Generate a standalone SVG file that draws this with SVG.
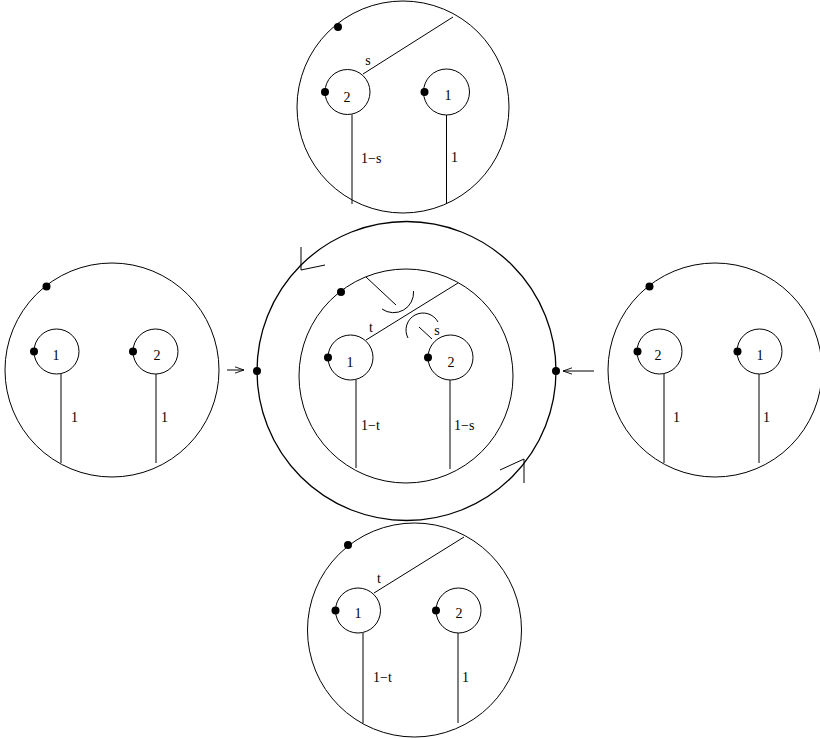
<svg xmlns="http://www.w3.org/2000/svg" width="820" height="739" viewBox="0 0 820 739">
<style>
.c{fill:none;stroke:#000;stroke-width:1}
.ln{fill:none;stroke:#000;stroke-width:1}
.d{fill:#000}
text{font-family:"Liberation Serif","Times New Roman",serif;font-size:14px;fill:#000}
.m{text-anchor:middle}
</style>
<defs>
<marker id="ah" viewBox="0 0 10 10" refX="10" refY="5" markerWidth="9" markerHeight="9" markerUnits="userSpaceOnUse" orient="auto">
<path d="M0,1.5 L10,5 L0,8.5" fill="none" stroke="#000" stroke-width="1"/>
</marker>
</defs>
<rect width="820" height="739" fill="#fff"/>

<g id="top">
<circle class="c" cx="403" cy="107" r="106"/>
<circle class="d" cx="338" cy="27" r="4"/>
<circle class="c" cx="347.5" cy="92" r="22.5"/>
<circle class="d" cx="325" cy="92" r="4"/>
<circle class="c" cx="446.5" cy="92" r="23"/>
<circle class="d" cx="424.5" cy="92" r="4"/>
<line class="ln" x1="363" y1="74" x2="453" y2="17"/>
<line class="ln" x1="352" y1="114.5" x2="352" y2="204"/>
<line class="ln" x1="446.5" y1="115" x2="446.5" y2="204"/>
<text class="m" x="368" y="65">s</text>
<text class="m" x="347" y="102">2</text>
<text class="m" x="448" y="100">1</text>
<text x="361" y="163">1−s</text>
<text x="451" y="162">1</text>
</g>

<g id="left">
<circle class="c" cx="112" cy="370" r="107"/>
<circle class="d" cx="46.5" cy="286.5" r="4"/>
<circle class="c" cx="56.5" cy="351.5" r="22.5"/>
<circle class="d" cx="34" cy="351.5" r="4"/>
<circle class="c" cx="155.5" cy="351.5" r="22.5"/>
<circle class="d" cx="133" cy="351.5" r="4"/>
<line class="ln" x1="61" y1="374" x2="61" y2="463"/>
<line class="ln" x1="156" y1="374" x2="156" y2="463"/>
<text class="m" x="56" y="360">1</text>
<text class="m" x="157" y="360">2</text>
<text x="71" y="422">1</text>
<text x="161" y="422">1</text>
</g>

<g id="center">
<circle cx="406.5" cy="371" r="149.5" fill="none" stroke="#000" stroke-width="1.3"/>
<circle class="d" cx="257" cy="371" r="4"/>
<circle class="d" cx="556" cy="371" r="4"/>
<path class="ln" d="M301,247 L301,270 L325,265"/>
<path class="ln" d="M500,470 L524,459 L524,483"/>
<circle class="c" cx="406" cy="376" r="107"/>
<circle class="d" cx="341" cy="292" r="4"/>
<line class="ln" x1="366" y1="277" x2="396" y2="305"/>
<path class="ln" d="M413.5,291 A20,20 0 0 1 382,309"/>
<line class="ln" x1="366" y1="340" x2="458" y2="283"/>
<path class="ln" d="M408,338 A17,17 0 0 1 438,322"/>
<line class="ln" x1="419" y1="327" x2="432" y2="339"/>
<circle class="c" cx="350.5" cy="357.5" r="22.5"/>
<circle class="d" cx="328" cy="357.5" r="4"/>
<circle class="c" cx="450.5" cy="357.5" r="22.5"/>
<circle class="d" cx="428" cy="357.5" r="4"/>
<line class="ln" x1="356" y1="380" x2="356" y2="468"/>
<line class="ln" x1="450" y1="380" x2="450" y2="469"/>
<text class="m" x="371" y="332">t</text>
<text class="m" x="437" y="335">s</text>
<text class="m" x="350" y="367">1</text>
<text class="m" x="451" y="367">2</text>
<text x="361" y="430">1−t</text>
<text x="454" y="430">1−s</text>
</g>

<g id="right">
<circle class="c" cx="715" cy="370" r="107"/>
<circle class="d" cx="649.5" cy="286.5" r="4"/>
<circle class="c" cx="659.5" cy="351.5" r="22.5"/>
<circle class="d" cx="637.5" cy="351.5" r="4"/>
<circle class="c" cx="759.5" cy="351.5" r="22.5"/>
<circle class="d" cx="737.5" cy="351.5" r="4"/>
<line class="ln" x1="664" y1="374" x2="664" y2="463"/>
<line class="ln" x1="759" y1="374" x2="759" y2="463"/>
<text class="m" x="658" y="360">2</text>
<text class="m" x="760" y="360">1</text>
<text x="673" y="422">1</text>
<text x="763" y="422">1</text>
</g>

<g id="bottom">
<circle class="c" cx="414.5" cy="630" r="107"/>
<circle class="d" cx="348" cy="545" r="4"/>
<circle class="c" cx="358" cy="610.5" r="22.5"/>
<circle class="d" cx="335.5" cy="610.5" r="4"/>
<circle class="c" cx="458.5" cy="610.5" r="22.5"/>
<circle class="d" cx="436" cy="610.5" r="4"/>
<line class="ln" x1="374" y1="593" x2="464" y2="537"/>
<line class="ln" x1="363" y1="633" x2="363" y2="723"/>
<line class="ln" x1="458" y1="633" x2="458" y2="723"/>
<text class="m" x="379" y="583">t</text>
<text class="m" x="358" y="618">1</text>
<text class="m" x="459" y="618">2</text>
<text x="373" y="682">1−t</text>
<text x="462" y="682">1</text>
</g>

<g id="connectors">
<line class="ln" x1="227" y1="370" x2="244" y2="370" marker-end="url(#ah)"/>
<line class="ln" x1="594" y1="371" x2="563" y2="371" marker-end="url(#ah)"/>
</g>
</svg>
